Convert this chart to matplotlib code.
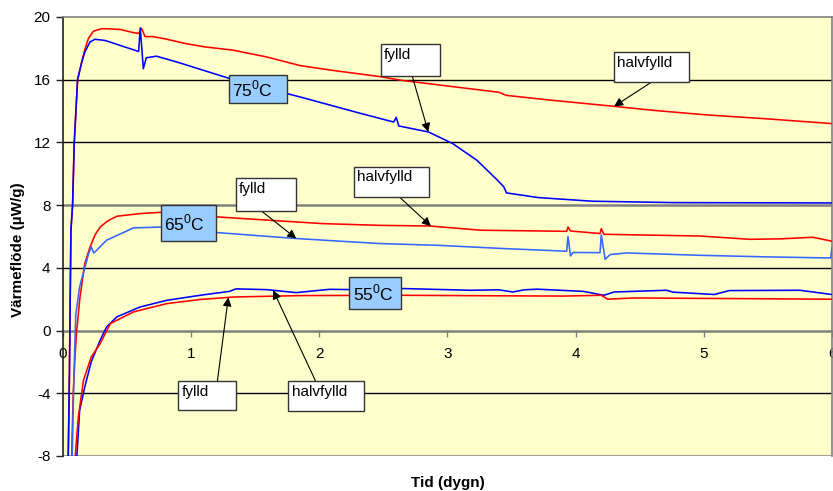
import numpy as np
import matplotlib
matplotlib.use("Agg")
import matplotlib.pyplot as plt
from matplotlib.patches import Rectangle

plt.rcParams["font.family"] = ["Liberation Sans", "DejaVu Sans"]
plt.rcParams["mathtext.fontset"] = "custom"
plt.rcParams["mathtext.rm"] = "Liberation Sans"

# --- heat flow curves (µW/g) vs time (days) ---
t75_half = [0.040, 0.050, 0.062, 0.075, 0.088, 0.114, 0.146, 0.170, 0.198, 0.237, 0.30,
            0.35, 0.45, 0.55, 0.59, 0.612, 0.625, 0.64, 0.70, 0.80, 0.96, 1.10, 1.33,
            1.59, 1.85, 2.10, 2.47, 2.65, 3.00, 3.40, 3.46, 3.80, 4.30, 4.60, 5.03,
            5.50, 6.00]
v75_half = [-8.6, -3.0, 6.4, 8.0, 12.0, 16.0, 17.13, 17.9, 18.62, 19.09, 19.25,
            19.25, 19.2, 19.0, 18.95, 19.28, 19.05, 18.75, 18.75, 18.6, 18.3, 18.1, 17.88,
            17.45, 16.9, 16.6, 16.2, 15.95, 15.6, 15.2, 15.0, 14.7, 14.3, 14.05, 13.75,
            13.5, 13.2]

t75_full = [0.040, 0.050, 0.062, 0.075, 0.088, 0.114, 0.146, 0.17, 0.21, 0.25, 0.33,
            0.59, 0.603, 0.615, 0.627, 0.65, 0.73, 0.90, 1.33, 1.85, 2.30, 2.58, 2.60,
            2.62, 2.85, 3.04, 3.23, 3.39, 3.44, 3.46, 3.71, 4.13, 4.77, 6.00]
v75_full = [-8.6, -3.0, 6.4, 8.0, 12.0, 16.0, 17.1, 17.75, 18.4, 18.58, 18.5,
            17.8, 19.3, 18.0, 16.7, 17.4, 17.5, 17.1, 16.0, 14.9, 13.9, 13.3, 13.6,
            13.05, 12.67, 11.93, 10.86, 9.59, 9.16, 8.78, 8.48, 8.25, 8.16, 8.14]

t65_half = [0.066, 0.080, 0.095, 0.107, 0.133, 0.17, 0.21, 0.25, 0.29, 0.35, 0.42,
            0.60, 0.76, 1.20, 1.62, 2.03, 2.47, 2.86, 3.26, 3.93, 3.94, 3.96, 4.19,
            4.20, 4.22, 4.97, 5.36, 5.60, 5.85, 6.00]
v65_half = [-8.6, -4.0, -1.5, 0.0, 2.14, 4.27, 5.3, 6.1, 6.6, 7.0, 7.29,
            7.46, 7.54, 7.25, 7.03, 6.82, 6.71, 6.67, 6.4, 6.33, 6.6, 6.35, 6.19,
            6.5, 6.14, 6.03, 5.82, 5.85, 5.95, 5.7]

t65_full = [0.070, 0.085, 0.10, 0.13, 0.17, 0.20, 0.22, 0.24, 0.26, 0.34, 0.55,
            0.76, 1.20, 1.82, 2.47, 2.92, 3.44, 3.93, 3.94, 3.96, 3.98, 4.19, 4.20,
            4.23, 4.27, 4.40, 4.97, 5.49, 5.99, 6.00]
v65_full = [-8.6, -3.0, 1.0, 2.8, 4.0, 4.9, 5.35, 4.95, 5.1, 5.76, 6.55,
            6.6, 6.25, 5.87, 5.55, 5.44, 5.23, 5.06, 6.0, 4.76, 4.98, 4.97, 6.1,
            4.55, 4.85, 4.95, 4.8, 4.7, 4.63, 5.3]

t55_full = [0.100, 0.107, 0.13, 0.17, 0.22, 0.29, 0.34, 0.42, 0.60, 0.81, 1.07,
            1.30, 1.35, 1.59, 1.82, 2.08, 2.40, 2.65, 3.18, 3.40, 3.51, 3.60, 3.70,
            4.06, 4.22, 4.30, 4.71, 4.76, 5.08, 5.20, 5.75, 6.00]
v55_full = [-8.6, -8.2, -5.1, -3.6, -2.0, -0.62, 0.23, 0.87, 1.5, 1.93, 2.25,
            2.5, 2.66, 2.61, 2.42, 2.63, 2.6, 2.68, 2.57, 2.6, 2.46, 2.6, 2.64,
            2.5, 2.25, 2.46, 2.57, 2.45, 2.3, 2.55, 2.57, 2.3]

t55_half = [0.090, 0.12, 0.16, 0.22, 0.29, 0.37, 0.55, 0.81, 1.07, 1.33, 1.85,
            2.65, 3.30, 3.90, 4.20, 4.25, 4.45, 6.00]
v55_half = [-8.6, -5.5, -3.17, -1.7, -0.83, 0.45, 1.19, 1.72, 1.98, 2.14, 2.23,
            2.25, 2.22, 2.2, 2.25, 2.0, 2.08, 2.0]

x_ticks = [0, 1, 2, 3, 4, 5, 6]
y_ticks = [-8, -4, 0, 4, 8, 12, 16, 20]

RED = "#ff0000"
BLUE = "#0000ff"
BLUE_LT = "#3366ff"
BG = "#ffffcc"
BOX_BLUE = "#99ccff"
GREY = "#808080"

fig = plt.figure(figsize=(8.33, 4.91), dpi=100)
ax = fig.add_axes([0.0756, 0.0713, 0.9232, 0.8941])
ax.set_facecolor(BG)

# horizontal grid, some lines are grey in the original sheet
for yv in [16, 12, 4, -4]:
    ax.axhline(yv, color="black", lw=1.0, zorder=1)
ax.axhline(8, color=GREY, lw=1.8, zorder=1)
ax.axhline(-8, color=GREY, lw=1.8, zorder=1)

lw = 1.15
ax.plot(t75_half, v75_half, color=RED, lw=lw, zorder=3)
ax.plot(t75_full, v75_full, color=BLUE, lw=lw, zorder=3)
ax.plot(t65_half, v65_half, color=RED, lw=lw, zorder=3)
ax.plot(t65_full, v65_full, color=BLUE_LT, lw=lw, zorder=3)
ax.plot(t55_full, v55_full, color=BLUE, lw=lw, zorder=3)
ax.plot(t55_half, v55_half, color=RED, lw=lw, zorder=3)

ax.set_xlim(0, 6)
ax.set_ylim(-8, 20)
ax.set_xticks(x_ticks)
ax.set_yticks(y_ticks)
ax.set_xticklabels([str(v) for v in x_ticks])
ax.set_yticklabels([str(v) for v in y_ticks])

# x axis sits on y = 0
ax.spines["bottom"].set_position(("data", 0))
ax.spines["bottom"].set_color(GREY)
ax.spines["bottom"].set_linewidth(1.8)
ax.spines["bottom"].set_zorder(2)
ax.spines["left"].set_color("#202020")
ax.spines["left"].set_linewidth(1.2)
for s in ("top", "right"):
    ax.spines[s].set_color(GREY)
    ax.spines[s].set_linewidth(1.2)
ax.tick_params(axis="x", direction="out", length=4, width=1, color=GREY,
               pad=8, labelsize=11)
ax.tick_params(axis="y", direction="out", length=5, width=1, color="#202020",
               pad=4, labelsize=11)

fig.text(18 / 833, 1 - 250 / 491, "Värmeflöde (µW/g)", rotation=90,
         ha="center", va="center", fontsize=11, fontweight="bold")
fig.text(448 / 833, 1 - 483 / 491, "Tid (dygn)", ha="center", va="center",
         fontsize=11, fontweight="bold")

# temperature labels: (text, left day, right day, bottom, top)
temp_boxes = [
    (r"75$^0$C", 1.296, 1.749, 14.52, 16.28),
    (r"65$^0$C", 0.763, 1.192, 5.70, 8.04),
    (r"55$^0$C", 2.235, 2.639, 1.40, 3.42),
]
for txt, x0, x1, y0, y1 in temp_boxes:
    ax.add_patch(Rectangle((x0, y0), x1 - x0, y1 - y0, facecolor=BOX_BLUE,
                           edgecolor="#333333", lw=1.0, zorder=5))
    ax.text(x0 + 0.025, (y0 + y1) / 2, txt, ha="left", va="center",
            fontsize=12.5, zorder=6)

# callouts: (text, box l, r, b, t, arrow start day, arrow start val, curve, target day)
callouts = [
    ("fylld", 2.479, 2.944, 16.26, 18.28, 2.724, 16.26, (t75_full, v75_full), 2.85),
    ("halvfylld", 4.298, 4.885, 15.88, 17.79, 4.598, 15.88, (t75_half, v75_half), 4.30),
    ("halvfylld", 2.271, 2.857, 8.52, 10.46, 2.625, 8.52, (t65_half, v65_half), 2.87),
    ("fylld", 1.350, 1.819, 7.61, 9.71, 1.551, 7.61, (t65_full, v65_full), 1.82),
    ("fylld", 0.900, 1.350, -5.08, -3.21, 1.205, -3.21, (t55_half, v55_half), 1.29),
    ("halvfylld", 1.759, 2.347, -5.10, -3.21, 1.970, -3.21, (t55_full, v55_full), 1.64),
]
for txt, x0, x1, y0, y1, sx, sy, (ct, cv), tx in callouts:
    ty = float(np.interp(tx, ct, cv))
    ax.annotate("", xy=(tx, ty), xytext=(sx, sy),
                arrowprops=dict(arrowstyle="-|>", color="black", lw=0.8,
                                mutation_scale=13, shrinkA=0, shrinkB=0),
                zorder=4)
    ax.add_patch(Rectangle((x0, y0), x1 - x0, y1 - y0, facecolor="white",
                           edgecolor="#333333", lw=1.0, zorder=5))
    ax.text(x0 + 0.025, y1 - 0.25, txt, ha="left", va="top", fontsize=11, zorder=6)

fig.savefig("out.png", dpi=100, facecolor="white")
